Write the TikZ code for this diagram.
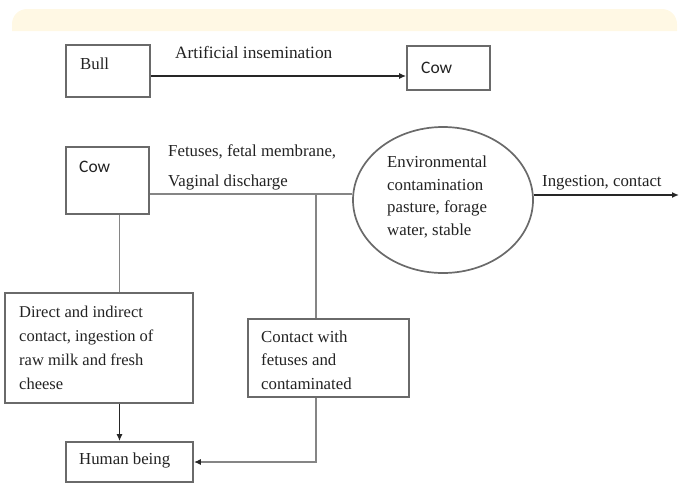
\documentclass[tikz,border=0pt]{standalone}
\usepackage{fontspec}
\setmainfont{Liberation Serif}
\newfontfamily\cowfont{Carlito}
\usetikzlibrary{arrows.meta,shapes.geometric}
\definecolor{bandc}{HTML}{FFF8E4}
\definecolor{boxc}{HTML}{6A6A6A}
\definecolor{linec}{HTML}{858585}
\definecolor{txtc}{HTML}{222222}
\begin{document}
\begin{tikzpicture}[x=1pt,y=-1pt,
  box/.style={draw=boxc,line width=1.7pt,rectangle,inner sep=0pt},
  txt/.style={inner sep=0pt,text=txtc,font=\fontsize{16.8}{23.5}\selectfont,align=left},
  con/.style={draw=linec,line width=1.8pt},
  arr/.style={draw=black!85,line width=1.7pt,-{Latex[length=7pt,width=6pt]}},
  garr/.style={draw=linec,line width=1.8pt,-{Latex[length=7pt,width=6pt,color=black!85]}}]
\useasboundingbox (0,0) rectangle (679,483);
% top band
\fill[bandc] (12,31) [rounded corners=15pt]-- (12,9) -- (677,9) [sharp corners]-- (677,31) -- cycle;
% boxes
\node[box,minimum width=84pt,minimum height=52pt] (bull) at (108,71) {};
\node[box,minimum width=83pt,minimum height=44pt] (cow1) at (448.5,68) {};
\node[box,minimum width=83pt,minimum height=67pt] (cow2) at (107.5,180.5) {};
\node[box,ellipse,minimum width=180pt,minimum height=146pt] (env) at (443,200) {};
\node[box,minimum width=188pt,minimum height=110pt] (direct) at (99,348) {};
\node[box,minimum width=161pt,minimum height=78pt] (contact) at (328.5,358) {};
\node[box,minimum width=127pt,minimum height=40pt] (human) at (129.5,462) {};
% texts
\node[txt,anchor=west] (tbull) at (80,64) {Bull};
\node[txt,anchor=west,font=\cowfont\fontsize{17.5}{20}\selectfont] (tcow1) at (421,68) {Cow};
\node[txt,anchor=west,font=\cowfont\fontsize{17.5}{20}\selectfont] (tcow2) at (79,167) {Cow};
\node[txt,anchor=west,font=\fontsize{17.3}{20}\selectfont] (tai) at (175,52) {Artificial insemination};
\node[txt,anchor=west] (tfet) at (168,152) {Fetuses, fetal membrane,};
\node[txt,anchor=west] (tvag) at (168,182) {Vaginal discharge};
\node[txt,anchor=north west,font=\fontsize{16.8}{22.7}\selectfont] (tenv) at (387,155.5) {Environmental\\contamination\\pasture, forage\\water, stable};
\node[txt,anchor=west] (ting) at (542,183) {Ingestion, contact};
\node[txt,anchor=north west,font=\fontsize{16.5}{24}\selectfont] (tdir) at (19,305.5) {Direct and indirect\\contact, ingestion of\\raw milk and fresh\\cheese};
\node[txt,anchor=north west] (tcon) at (261,330.5) {Contact with\\fetuses and\\contaminated};
\node[txt,anchor=west] (thum) at (79,460) {Human being};
% connectors
\draw[arr] ([yshift=-5pt]bull.east) -- ([yshift=-8pt]cow1.west);
\coordinate (j1) at (316,194);
\draw[con] ([yshift=-13.5pt]cow2.east) -- ([yshift=6pt]env.west);
\draw[con] (j1) -- (j1 |- contact.north);
\coordinate (ingend) at (679,195);
\draw[arr] ([yshift=5pt]env.east) -- (ingend);
\coordinate (c2) at (119.5,250);
\draw[con] (c2 |- cow2.south) -- (c2 |- direct.north);
\draw[arr] (c2 |- direct.south) -- (c2 |- human.north);
\draw[garr] (j1 |- contact.south) -- (j1 |- human.east) -- (human.east);
\end{tikzpicture}
\end{document}
